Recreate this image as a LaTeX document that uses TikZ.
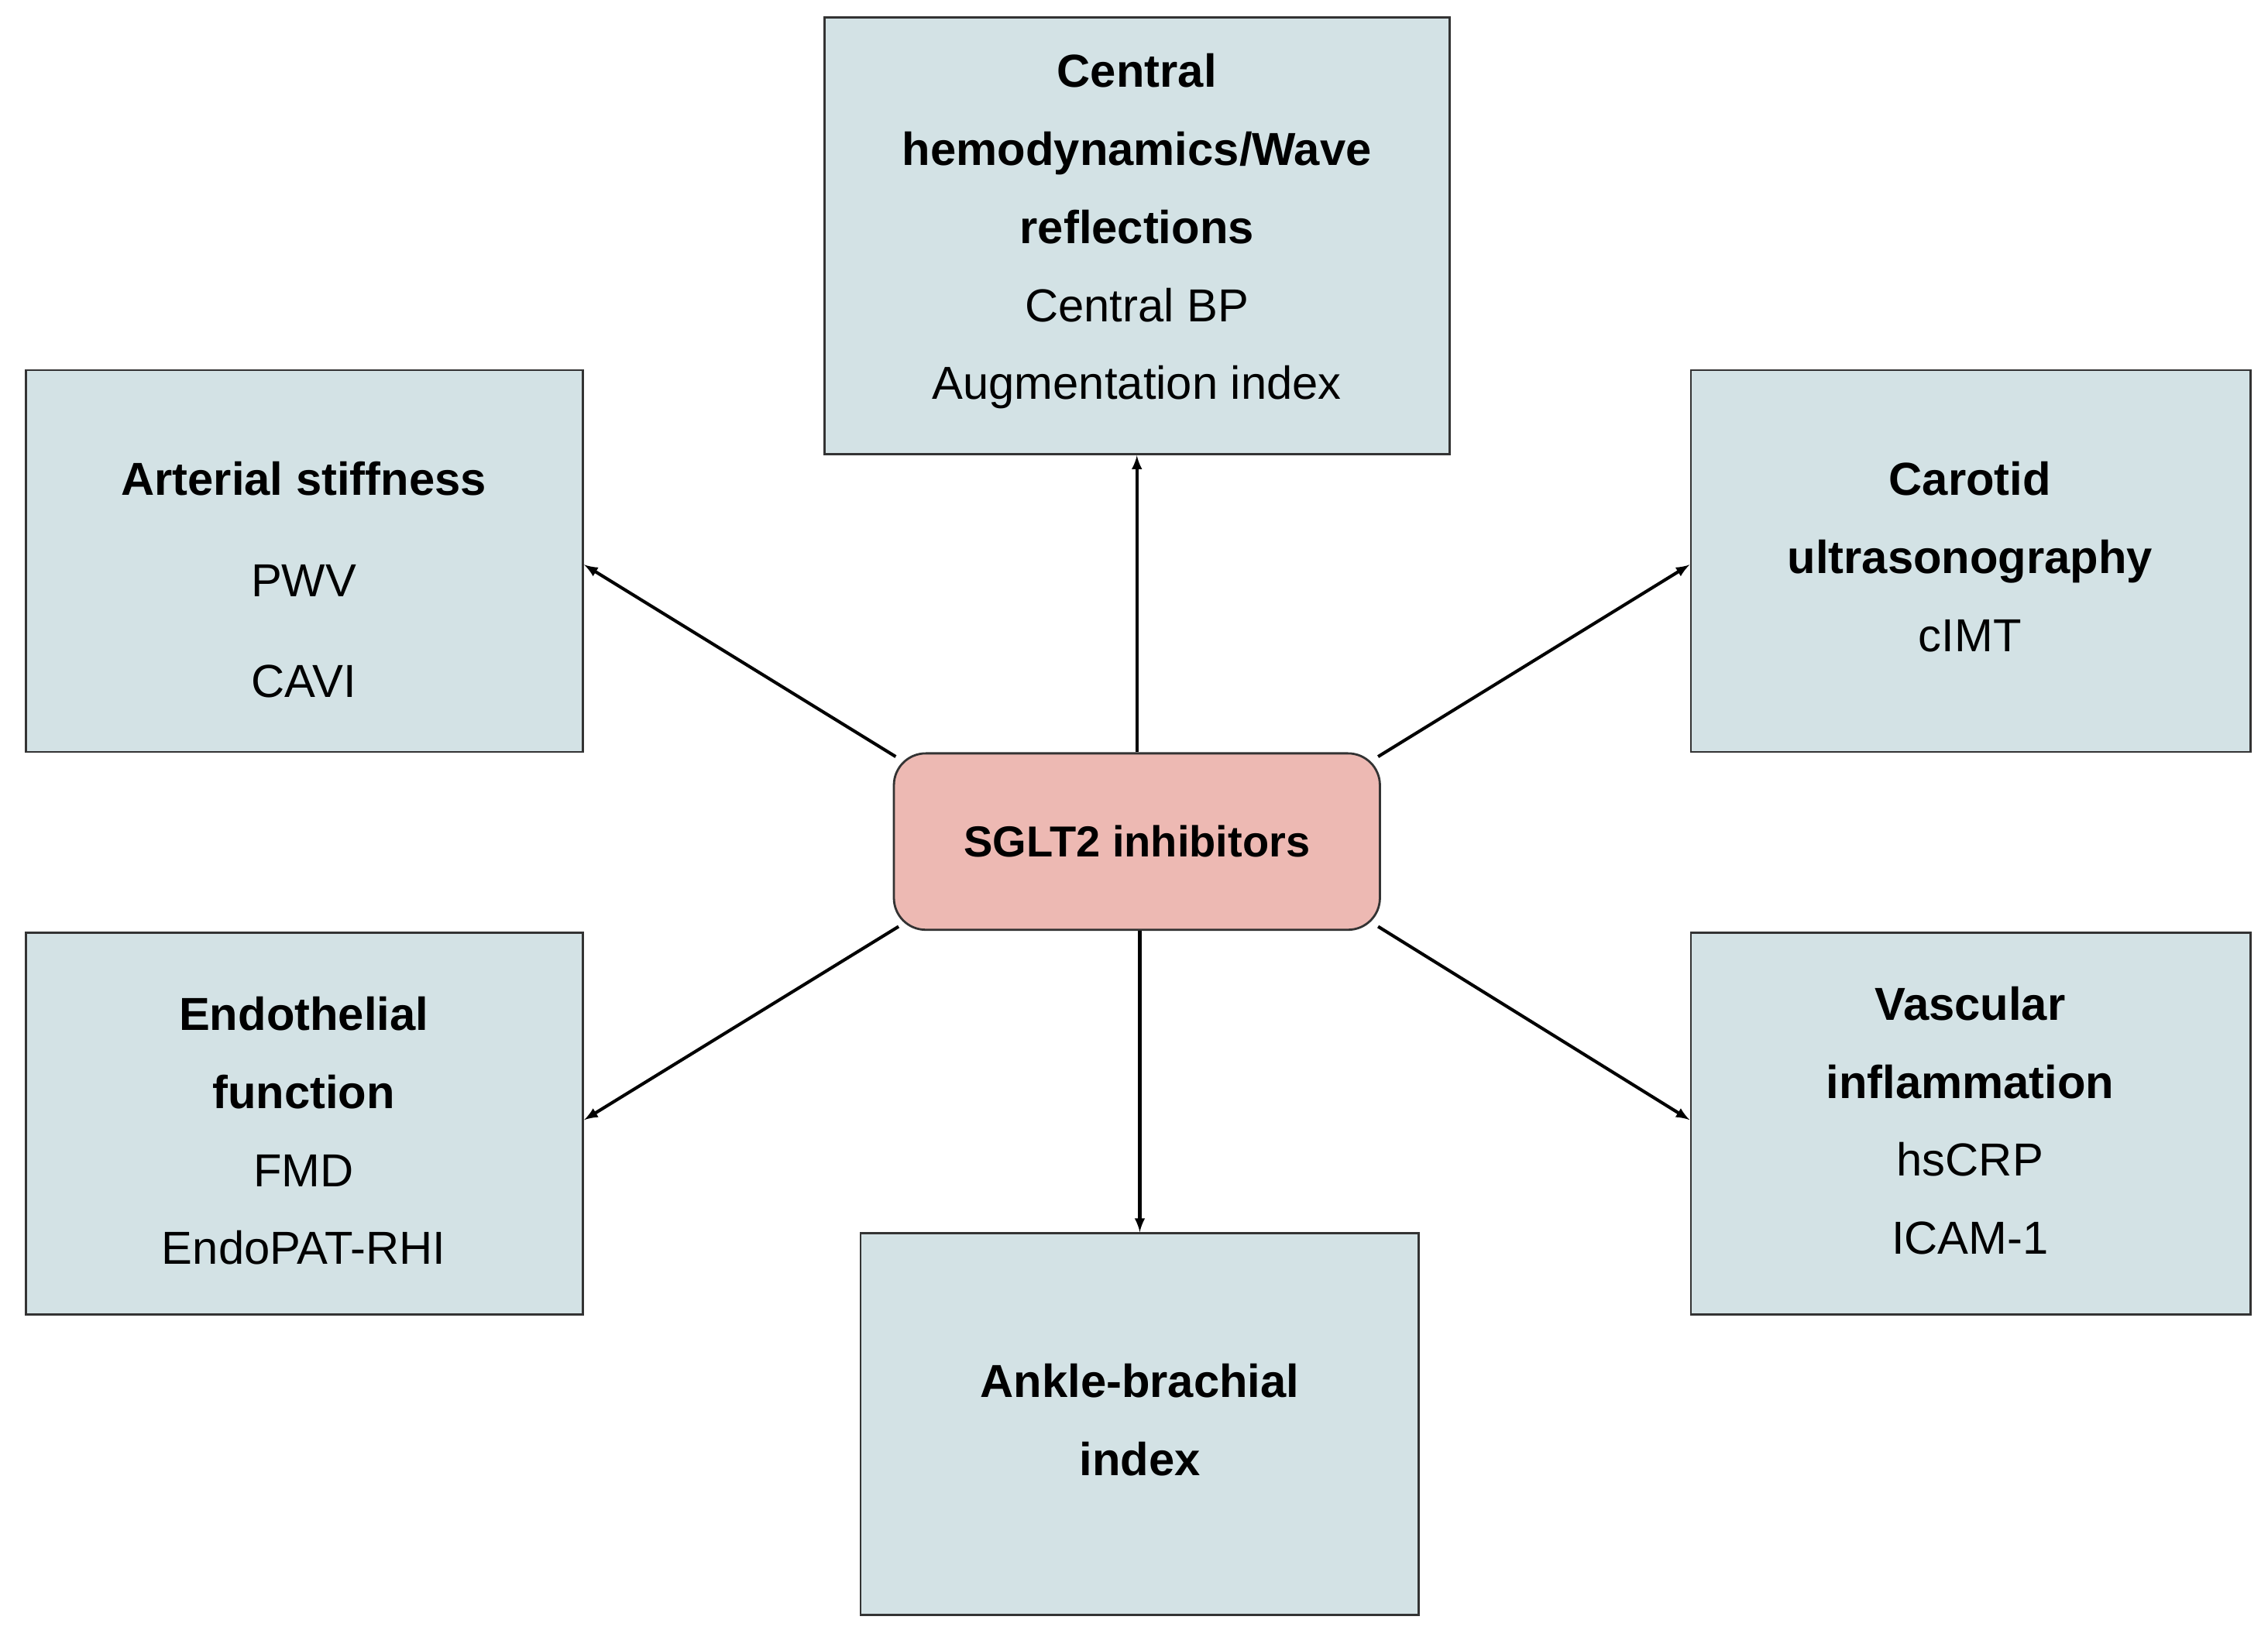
\documentclass[tikz,border=0pt]{standalone}
\usepackage{fontspec}
\setmainfont{Liberation Sans}
\begin{document}
\begin{tikzpicture}[x=1pt,y=-1pt,
  box/.style={draw=black!80,line width=1.5pt,fill=boxc,inner sep=0pt},
  txt/.style={align=center,font=\fontsize{32}{54}\selectfont},
  arr/.style={-latex,line width=2.2pt,shorten >=1pt}]
\definecolor{boxc}{HTML}{D3E2E5}
\definecolor{cenc}{HTML}{EDB9B3}
\useasboundingbox (0,0) rectangle (1568,1132);
\draw[box] (570,12) rectangle (1002,314); \coordinate (top) at (786,314);
\node[txt] (ttop) at (786,160) {\textbf{Central}\\\textbf{hemodynamics/Wave}\\\textbf{reflections}\\Central BP\\Augmentation index};
\draw[box] (18,256) rectangle (403,520); \coordinate (art) at (403,390);
\node[txt,font=\fontsize{32}{70}\selectfont] (tart) at (210,401) {\textbf{Arterial stiffness}\\PWV\\CAVI};
\draw[box] (1169,256) rectangle (1556,520); \coordinate (car) at (1169,390);
\node[txt] (tcar) at (1362,385) {\textbf{Carotid}\\\textbf{ultrasonography}\\cIMT};
\draw[box] (18,645) rectangle (403,909); \coordinate (end) at (403,775);
\node[txt] (tend) at (210,782) {\textbf{Endothelial}\\\textbf{function}\\FMD\\EndoPAT-RHI};
\draw[box] (1169,645) rectangle (1556,909); \coordinate (vas) at (1169,775);
\node[txt] (tvas) at (1362,775) {\textbf{Vascular}\\\textbf{inflammation}\\hsCRP\\ICAM-1};
\draw[box] (595,853) rectangle (981,1117); \coordinate (ank) at (788,853);
\node[txt] (tank) at (788,982) {\textbf{Ankle-brachial}\\\textbf{index}};
\node[draw=black!80,line width=1.5pt,fill=cenc,rounded corners=22pt,minimum width=336pt,minimum height=122pt,font=\fontsize{30}{36}\selectfont\bfseries] (c) at (786,582) {SGLT2 inhibitors};
\draw[arr] (c.north) -- (top);
\draw[arr] (c.north west) ++(2,3) -- (art);
\draw[arr] (c.north east) ++(-2,3) -- (car);
\draw[arr] (c.south west) ++(4,-3) -- (end);
\draw[arr] (c.south east) ++(-2,-3) -- (vas);
\draw[arr] (c.south -| ank) -- (ank);
\end{tikzpicture}
\end{document}
